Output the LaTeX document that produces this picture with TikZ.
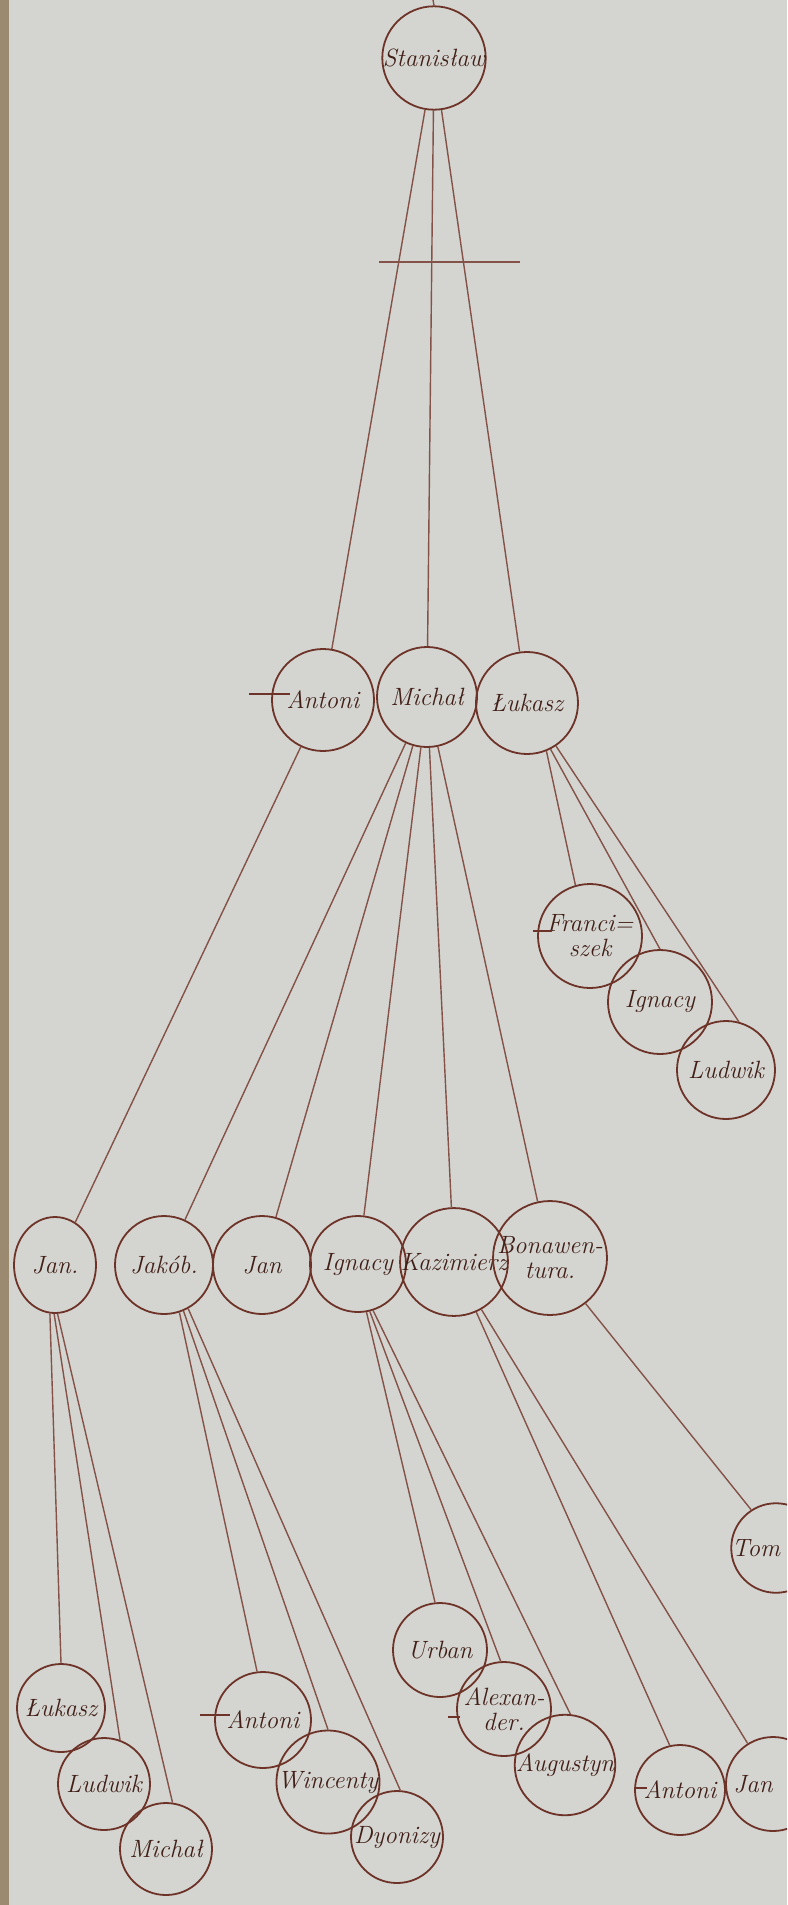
\documentclass[tikz,border=0pt]{standalone}
\usepackage{fontspec}
\usetikzlibrary{shapes.geometric}
\definecolor{paper}{HTML}{D4D5D0}
\definecolor{ink}{HTML}{6E3328}
\definecolor{binding}{HTML}{9C8A70}

\begin{document}
\begin{tikzpicture}[
  x=0.5pt, y=-0.5pt,
  font=\fontsize{12.5}{12.5}\selectfont\itshape,
  person/.style={
    circle,
    draw=ink,
    line width=0.9pt,
    inner sep=0pt,
    align=center,
    text=ink!60!black,
    minimum size=#1
  },
  person/.default=48pt,
  branch/.style={draw=ink!85, line width=0.7pt},
  strike/.style={draw=ink, line width=0.6pt}
]
\useasboundingbox (0,0) rectangle (787,1905);
\fill[paper] (0,0) rectangle (787,1905);
\fill[binding] (0,0) rectangle (9,1905);
\clip (0,0) rectangle (787,1905);

\node[person=51pt] (stan) at (434,58) {Stanisław};

\node[person=51pt] (antoni) at (323,700) {Antoni};
\node[person=50pt] (michal) at (427,697) {Michał};
\node[person=51pt] (lukasz) at (527,703) {Łukasz};

\node[person=52pt] (franciszek) at (590,936) {Franci=\\szek};
\node[person=52pt] (ignacy) at (660,1002) {Ignacy};
\node[person=49pt] (ludwik) at (726,1070) {Ludwik};

\node[person, ellipse, minimum width=41pt] (jan) at (55,1265) {Jan.};
\node[person=49pt] (jakob) at (164,1265) {Jakób.};
\node[person=49pt] (janb) at (262,1265) {Jan};
\node[person] (ignacyb) at (358,1264) {Ignacy};
\node[person] (kazimierz) at (454,1262) {Kazimierz};
\node[person] (bonawentura) at (550,1258) {Bonawen-\\tura.};

\node[person=44pt] (lukaszb) at (61,1708) {Łukasz};
\node[person=46pt] (ludwikb) at (104,1784) {Ludwik};
\node[person=46pt] (michalb) at (166,1849) {Michał};

\node[person] (antonib) at (263,1720) {Antoni};
\node[person=47pt] (wincenty) at (328,1782) {Wincenty};
\node[person=46pt] (dyonizy) at (397,1837) {Dyonizy};

\node[person=47pt] (urban) at (440,1650) {Urban};
\node[person=47pt] (alexander) at (504,1709) {Alexan-\\der.};
\node[person=46pt] (augustyn) at (565,1765) {Augustyn};

\node[person=45pt] (antonic) at (680,1790) {Antoni};
\node[person=47pt] (janc) at (773,1784) {Jan\hspace*{20pt}};
\node[person=44pt] (tomasz) at (776,1548) {Tom\hspace*{20pt}};

\coordinate (top) at (433,0);
\coordinate (barl) at (379,262);
\coordinate (barr) at (520,262);

\draw[branch] (stan.north) -- (top);
\draw[branch] (stan) -- (antoni);
\draw[branch] (stan) -- (michal);
\draw[branch] (stan) -- (lukasz);
\draw[branch] (barl) -- (barr);

\draw[branch] (antoni) -- (jan);
\draw[branch] (michal) -- (jakob);
\draw[branch] (michal) -- (janb);
\draw[branch] (michal) -- (ignacyb);
\draw[branch] (michal) -- (kazimierz);
\draw[branch] (michal) -- (bonawentura);
\draw[branch] (lukasz.-68) -- (franciszek.106);
\draw[branch] (lukasz.-63) -- (ignacy.90);
\draw[branch] (lukasz.-56) -- (ludwik.75);

\draw[branch] (jan.-96) -- (lukaszb.north);
\draw[branch] (jan.-91) -- (ludwikb.70);
\draw[branch] (jan.-87) -- (michalb.82);
\draw[branch] (jakob.-72) -- (antonib.97);
\draw[branch] (jakob.-67) -- (wincenty.90);
\draw[branch] (jakob.-61) -- (dyonizy.86);
\draw[branch] (ignacyb.-80) -- (urban.96);
\draw[branch] (ignacyb.-76) -- (alexander.94);
\draw[branch] (ignacyb.-72) -- (augustyn.84);
\draw[branch] (kazimierz.-66) -- (antonic.103);
\draw[branch] (kazimierz.-60) -- (janc.122);
\draw[branch] (bonawentura.-52) -- (tomasz.123);

\draw[strike] (249,694) -- (290,694);
\draw[strike] (533,931) -- (552,931);
\draw[strike] (200,1715) -- (230,1715);
\draw[strike] (448,1717) -- (460,1717);
\draw[strike] (635,1788) -- (647,1788);

\end{tikzpicture}
\end{document}
